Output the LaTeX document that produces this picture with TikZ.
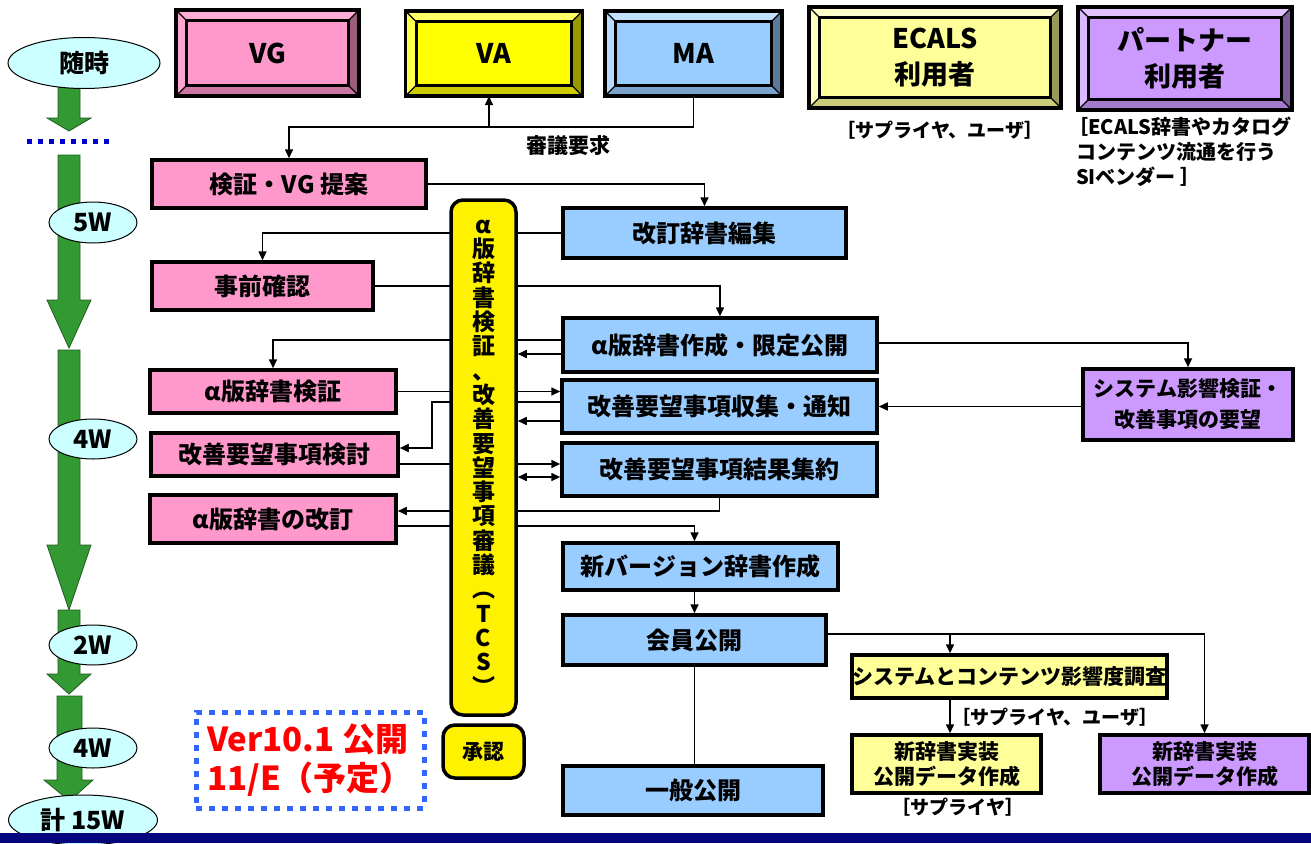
\documentclass[tikz,border=0pt]{standalone}
\usepackage{fontspec}
\setmainfont{Noto Sans CJK JP}
\usetikzlibrary{arrows.meta,backgrounds,shapes.geometric}
\definecolor{pinkf}{HTML}{FF99CC}
\definecolor{bluef}{HTML}{99CCFF}
\definecolor{lyf}{HTML}{FFFF99}
\definecolor{purf}{HTML}{CC99FF}
\definecolor{ellf}{HTML}{CCFFFF}
\definecolor{greenf}{HTML}{339933}
\definecolor{greend}{HTML}{1F5C1F}
\definecolor{dotblue}{HTML}{3366FF}
\definecolor{sepblue}{HTML}{0000CC}
\definecolor{navybar}{HTML}{06067F}
% bevel colours: f face, t top, l left, r right, b bottom
\definecolor{vgf}{HTML}{FF99CC}\definecolor{vgt}{HTML}{FFADD6}\definecolor{vgl}{HTML}{FFA3D1}\definecolor{vgr}{HTML}{9C5C7E}\definecolor{vgb}{HTML}{CC77A3}
\definecolor{vaf}{HTML}{FFFF00}\definecolor{vat}{HTML}{FFFF66}\definecolor{val}{HTML}{FFFF4D}\definecolor{var}{HTML}{999900}\definecolor{vab}{HTML}{CCCC00}
\definecolor{maf}{HTML}{99CCFF}\definecolor{mat}{HTML}{C2E0FF}\definecolor{mal}{HTML}{B8DBFF}\definecolor{mar}{HTML}{5C7A99}\definecolor{mab}{HTML}{7AA3CC}
\definecolor{ecf}{HTML}{FFFF99}\definecolor{ect}{HTML}{FFFFCC}\definecolor{ecl}{HTML}{FFFFC2}\definecolor{ecr}{HTML}{99995C}\definecolor{ecb}{HTML}{CCCC7A}
\definecolor{ptf}{HTML}{CC99FF}\definecolor{ptt}{HTML}{E0C2FF}\definecolor{ptl}{HTML}{DBB8FF}\definecolor{ptr}{HTML}{7A5C99}\definecolor{ptb}{HTML}{A37ACC}
\newcommand\bevw{11pt}
\newcommand\bevbox[6]{%
 \node[bevnode, fill=#5f, minimum width=#3pt, minimum height=#4pt] (#1) at (#2) {#6};
 \fill[#5t] (#1.north west) -- (#1.north east) -- ([shift={(-\bevw,-\bevw)}]#1.north east) -- ([shift={(\bevw,-\bevw)}]#1.north west) -- cycle;
 \fill[#5l] (#1.north west) -- ([shift={(\bevw,-\bevw)}]#1.north west) -- ([shift={(\bevw,\bevw)}]#1.south west) -- (#1.south west) -- cycle;
 \fill[#5r] (#1.north east) -- (#1.south east) -- ([shift={(-\bevw,\bevw)}]#1.south east) -- ([shift={(-\bevw,-\bevw)}]#1.north east) -- cycle;
 \fill[#5b] (#1.south west) -- (#1.south east) -- ([shift={(-\bevw,\bevw)}]#1.south east) -- ([shift={(\bevw,\bevw)}]#1.south west) -- cycle;
 \draw[line width=1.2pt] (#1.north west) -- ([shift={(\bevw,-\bevw)}]#1.north west)
   (#1.north east) -- ([shift={(-\bevw,-\bevw)}]#1.north east)
   (#1.south east) -- ([shift={(-\bevw,\bevw)}]#1.south east)
   (#1.south west) -- ([shift={(\bevw,\bevw)}]#1.south west);
 \draw[line width=3pt] ([shift={(\bevw,-\bevw)}]#1.north west) rectangle ([shift={(-\bevw,\bevw)}]#1.south east);
 \draw[line width=3.5pt] (#1.north west) rectangle (#1.south east);
}
\newcommand\greenarrow[7]{%
 \filldraw[garrow] (#1,#3) -- (#2,#3) -- (#2,#4) -- (#6,#4) -- ({(#1+#2)/2},#7) -- (#5,#4) -- (#1,#4) -- cycle;}
\tikzset{
 garrow/.style={fill=greenf, draw=greend, line width=0.8pt},
 flowbox/.style={draw, line width=3.5pt, inner sep=0pt, align=center, font=\bfseries\fontsize{24}{28}\selectfont},
 pinkbox/.style={flowbox, fill=pinkf},
 bluebox/.style={flowbox, fill=bluef},
 lybox/.style={flowbox, fill=lyf, font=\bfseries\fontsize{21}{25}\selectfont},
 purbox/.style={flowbox, fill=purf, font=\bfseries\fontsize{21}{25}\selectfont},
 tcsbox/.style={draw, line width=3.5pt, fill=yellow, rounded corners=12pt, inner sep=0pt, align=center},
 conn/.style={line width=1.6pt},
 arr/.style={conn, -{Triangle[length=9pt,width=8pt]}},
 darr/.style={conn, {Triangle[length=9pt,width=8pt]}-{Triangle[length=9pt,width=8pt]}},
 weekell/.style={ellipse, draw, line width=1pt, fill=ellf, inner sep=0pt, font=\bfseries\fontsize{25}{28}\selectfont},
 bevnode/.style={inner sep=0pt, align=center, font=\bfseries\fontsize{27}{36}\selectfont},
 note/.style={inner sep=0pt, align=left, font=\bfseries\fontsize{19}{25}\selectfont},
 dotbox/.style={draw=dotblue, line width=5pt, dash pattern=on 6pt off 7pt, minimum width=228pt, minimum height=96pt, inner sep=0pt, align=left, text=red, font=\bfseries\fontsize{33}{39}\selectfont},
}
\begin{document}
\begin{tikzpicture}[x=1pt,y=-1pt]
\useasboundingbox (0,0) rectangle (1311,843);
\begin{scope}[on background layer]
\fill[white] (0,0) rectangle (1311,843);
\end{scope}

% time line
\greenarrow{58}{80}{85}{118}{47}{91}{131}
\draw[sepblue, line width=5pt, dash pattern=on 5pt off 6pt] (27,141) -- (110,141);
\greenarrow{58}{80}{155}{300}{47}{91}{348}
\greenarrow{58}{80}{350}{545}{47}{91}{610}
\greenarrow{58}{80}{610}{674}{47}{91}{694}
\greenarrow{57}{82}{696}{780}{44}{93}{801}
\node[weekell, minimum width=152pt, minimum height=51pt] (t0) at (84,63) {随時};
\node[weekell, minimum width=88pt, minimum height=41pt] (t1) at (93,222.5) {5W};
\node[weekell, minimum width=88pt, minimum height=40pt] (t2) at (93,439) {4W};
\node[weekell, minimum width=88pt, minimum height=40pt] (t3) at (93,645) {2W};
\node[weekell, minimum width=88pt, minimum height=40pt] (t4) at (93,748) {4W};
\node[weekell, minimum width=149pt, minimum height=50pt] (t5) at (83,820) {計 15W};

% top bevel boxes
\bevbox{vg}{267.5,53}{183}{86}{vg}{VG}
\bevbox{va}{494,53.5}{177}{85}{va}{VA}
\bevbox{ma}{693.5,53.5}{177}{85}{ma}{MA}
\bevbox{ecals}{935,57.5}{252}{101}{ec}{ECALS\\利用者}
\bevbox{partner}{1185,58.5}{214}{103}{pt}{パートナー\\利用者}
\node[note] (ecalsnote) at (940,130) {［サプライヤ、ユーザ］};
\node[note, anchor=north west, font=\bfseries\fontsize{20}{25}\selectfont] (partnernote) at (1068,117) {［ECALS辞書やカタログ\\\hspace{8pt}コンテンツ流通を行う\\\hspace{8pt}SIベンダー ］};
\node[inner sep=0pt, font=\bfseries\fontsize{21}{25}\selectfont] (reqlbl) at (568,145) {審議要求};

% pink boxes
\node[pinkbox, minimum width=274pt, minimum height=48pt] (verify) at (289,184) {検証・VG 提案};
\node[pinkbox, minimum width=221pt, minimum height=48pt] (precheck) at (262.5,286) {事前確認};
\node[pinkbox, minimum width=246pt, minimum height=43pt] (alphaverify) at (273,391.5) {α版辞書検証};
\node[pinkbox, minimum width=247pt, minimum height=43pt] (review) at (274.5,454.5) {改善要望事項検討};
\node[pinkbox, minimum width=246pt, minimum height=48pt] (alpharev) at (273,519) {α版辞書の改訂};

% TCS bar
\node[tcsbox, minimum width=65pt, minimum height=515pt, font=\bfseries\fontsize{23}{24.3}\selectfont] (tcs) at (483.5,457.5)
 {α\\版\\辞\\書\\検\\証\\、\\改\\善\\要\\望\\事\\項\\審\\議\\︵\\T\\C\\S\\︶};
\node[tcsbox, minimum width=81pt, minimum height=53pt, font=\bfseries\fontsize{21}{25}\selectfont] (approve) at (483.5,751.5) {承認};

% blue boxes
\node[bluebox, minimum width=283pt, minimum height=50pt] (edit) at (704.5,233) {改訂辞書編集};
\node[bluebox, minimum width=314pt, minimum height=54pt] (alphamake) at (720,345) {α版辞書作成・限定公開};
\node[bluebox, minimum width=315pt, minimum height=53pt] (collect) at (719.5,406.5) {改善要望事項収集・通知};
\node[bluebox, minimum width=315pt, minimum height=53pt] (summary) at (719.5,469.5) {改善要望事項結果集約};
\node[bluebox, minimum width=275pt, minimum height=47pt] (newver) at (700.5,566.5) {新バージョン辞書作成};
\node[bluebox, minimum width=263pt, minimum height=50pt] (member) at (694.5,640) {会員公開};
\node[bluebox, minimum width=260pt, minimum height=49pt] (general) at (693,790.5) {一般公開};

% right side boxes
\node[purbox, minimum width=210pt, minimum height=71pt, font=\bfseries\fontsize{21}{31}\selectfont] (sysimpact) at (1188,404.5) {システム影響検証・\\改善事項の要望};
\node[lybox, minimum width=315pt, minimum height=43pt] (survey) at (1009.5,676.5) {システムとコンテンツ影響度調査};
\node[lybox, minimum width=189pt, minimum height=58pt] (supplierimpl) at (946.5,764) {新辞書実装\\公開データ作成};
\node[purbox, minimum width=209pt, minimum height=58pt] (partnerimpl) at (1204.5,764) {新辞書実装\\公開データ作成};
\node[note] (surveynote) at (1055,717) {［サプライヤ、ユーザ］};
\node[note] (suppliernote) at (958,807) {［サプライヤ］};

% version note
\node[dotbox] (ver) at (310,760) {Ver10.1 公開\\11/E（予定）};

% connectors
\begin{scope}[on background layer]
\coordinate (vaj) at (489,127);
\draw[conn] (ma.south) |- (vaj);
\draw[arr] (vaj) -| (verify.north);
\draw[arr] (vaj) -- (vaj |- va.south);
\draw[arr] (verify.east) -| (edit.north);
\draw[arr] (edit.west) -| (precheck.north);
\draw[arr] (precheck.east) -| (alphamake.north);
\draw[arr] ([yshift=5pt]alphamake.west) -| (alphaverify.north);
\coordinate (a5) at ([yshift=-9pt]alphamake.west);
\draw[arr] (a5) -- (a5 -| tcs.east);
\draw[arr] ([yshift=2pt]alphamake.east) -| (sysimpact.north);
\draw[arr] (sysimpact.west |- collect.east) -- (collect.east);
\draw[arr] (alphaverify.east) -- (alphaverify.east -| collect.west);
\coordinate (c9) at ([yshift=4.5pt]collect.west);
\coordinate (c9b) at ([yshift=6.5pt]review.east);
\draw[arr] (c9) -| ([xshift=32pt]c9b) -- (c9b);
\coordinate (c10) at ([yshift=-14.5pt]collect.west);
\draw[arr] (c10) -- (c10 -| tcs.east);
\coordinate (c11) at ([yshift=-9.5pt]review.east);
\draw[arr] (c11) -- (c11 -| summary.west);
\coordinate (c12) at ([yshift=-7.5pt]summary.west);
\draw[darr] (c12 -| tcs.east) -- (c12);
\coordinate (c13) at ([yshift=8pt]alpharev.east);
\draw[arr] (summary.south) |- (c13);
\coordinate (c14) at ([yshift=-7pt]alpharev.east);
\draw[arr] (c14) -| (newver.north -| member.north);
\draw[arr] (newver.south -| member.north) -- (member.north);
\draw[conn] (member.south) -- (member.south |- general.north);
\coordinate (mem) at ([yshift=6pt]member.east);
\draw[arr] (mem) -| (partnerimpl.north);
\coordinate (br) at (950,634);
\draw[arr] (br) -- (br |- survey.north);
\draw[arr] (br |- survey.south) -- (br |- supplierimpl.north);
\end{scope}

% bottom bar
\fill[navybar] (0,833) rectangle (1311,843);
\end{tikzpicture}
\end{document}
